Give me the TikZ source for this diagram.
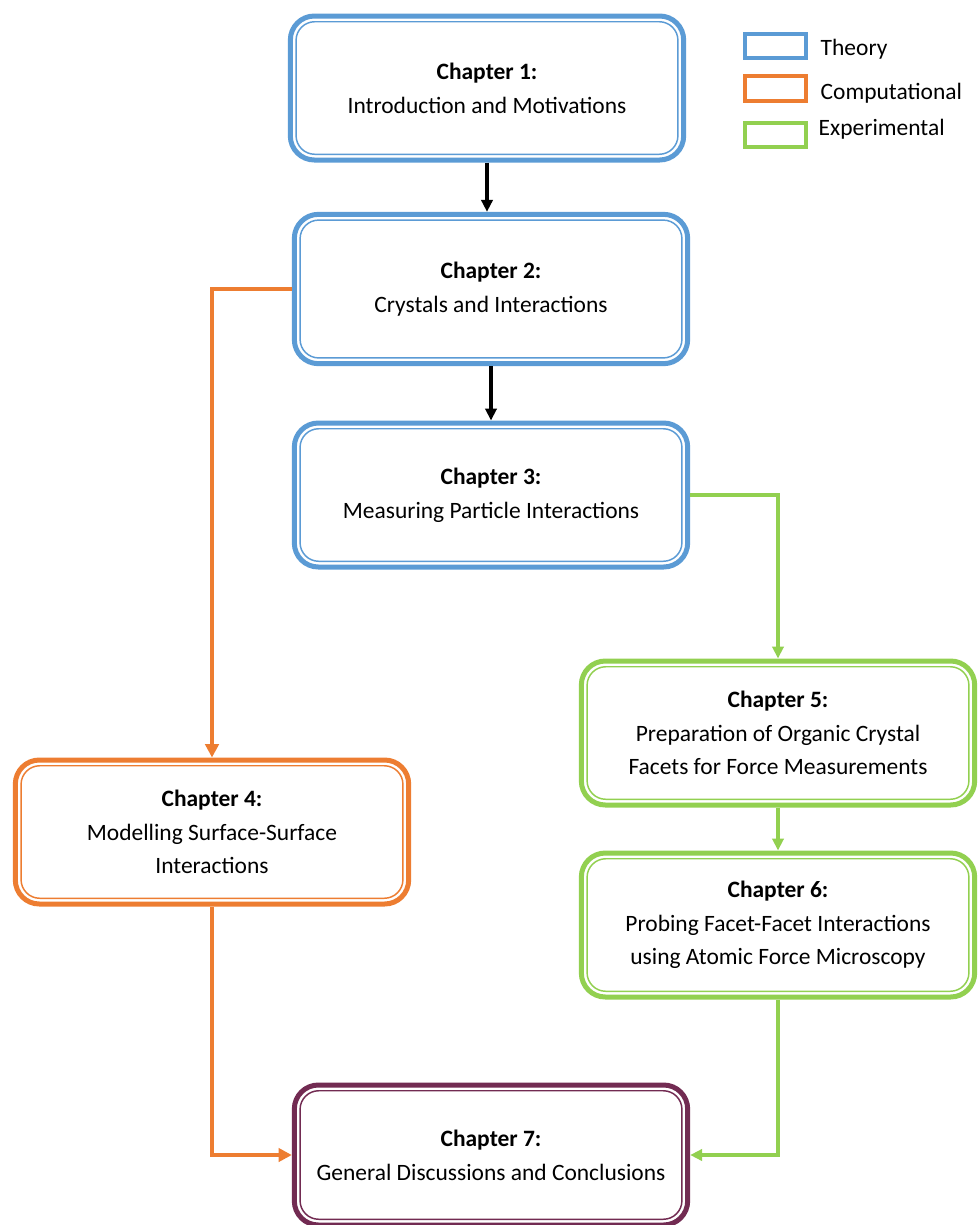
\documentclass[tikz,border=0pt]{standalone}
\usepackage{fontspec}
\setmainfont{Carlito}
\usepackage{xcolor}
\usetikzlibrary{arrows.meta,positioning}

\definecolor{thblue}{HTML}{5B9BD5}
\definecolor{cmorange}{HTML}{ED7D31}
\definecolor{exgreen}{HTML}{92D050}
\definecolor{plum}{HTML}{722B52}

\begin{document}
\begin{tikzpicture}[x=0.75pt, y=-0.75pt,
  box/.style    = {rectangle, rounded corners=18pt, line width=3.75pt,
                   fill=white, minimum width=295pt, minimum height=108pt,
                   align=center, font=\fontsize{17.6}{25.3}\selectfont},
  frame/.style  = {box, draw=#1,
                   path picture={\draw[#1, line width=1.1pt, rounded corners=14pt]
                     ([shift={(4.3pt,4.3pt)}]path picture bounding box.south west) rectangle
                     ([shift={(-4.3pt,-4.3pt)}]path picture bounding box.north east);}},
  theory/.style = {frame=thblue},
  comp/.style   = {frame=cmorange},
  expt/.style   = {frame=exgreen},
  concl/.style  = {frame=plum},
  key/.style    = {draw=#1, line width=3pt, minimum width=45.5pt, minimum height=18.5pt},
  keytxt/.style = {anchor=west, font=\fontsize{17.6}{20}\selectfont},
  arr/.style    = {-{Triangle[length=9pt,width=8.5pt]}, line width=2.3pt},
  oarr/.style   = {arr, cmorange, line width=3pt, -{Triangle[length=10pt,width=10pt]}},
  garr/.style   = {arr, exgreen, line width=2.4pt}
]
\useasboundingbox (0,0) rectangle (978,1225);

% --- theory chain ---
\node[theory] (ch1) at (487,88)  {\textbf{Chapter 1:}\\Introduction and Motivations};
\node[theory, minimum height=112pt] (ch2) at (491,289) {\textbf{Chapter 2:}\\Crystals and Interactions};
\node[theory] (ch3) at (491,495) {\textbf{Chapter 3:}\\Measuring Particle Interactions};

% --- computational branch ---
\node[comp] (ch4) at (212,832) {\textbf{Chapter 4:}\\Modelling Surface-Surface\\Interactions};

% --- experimental branch ---
\node[expt] (ch5) at (778,733) {\textbf{Chapter 5:}\\Preparation of Organic Crystal\\Facets for Force Measurements};
\node[expt] (ch6) at (778,925) {\textbf{Chapter 6:}\\Probing Facet-Facet Interactions\\using Atomic Force Microscopy};

% --- conclusions ---
\node[concl, minimum height=105pt] (ch7) at (491,1155) {\textbf{Chapter 7:}\\General Discussions and Conclusions};

% --- legend ---
\node[key=thblue]   (kth) at (775.5,46)  {};
\node[key=cmorange] (kcm) at (775.5,88.5) {};
\node[key=exgreen]  (kex) at (775.5,135) {};
\node[keytxt] (lth) at (816,49)  {Theory};
\node[keytxt] (lcm) at (816,93)  {Computational};
\node[keytxt] (lex) at (814,129) {Experimental};

% --- arrows ---
\draw[arr]  (ch1.south) -- (ch1.south |- ch2.north);
\draw[arr]  (ch2.south) -- (ch3.north);
\draw[oarr] (ch2.west) -| (ch4.north);
\draw[garr] (ch3.east) -| (ch5.north);
\draw[garr] (ch5.south) -- (ch6.north);
\draw[oarr] (ch4.south) |- (ch7.west);
\draw[garr] (ch6.south) |- (ch7.east);

\end{tikzpicture}
\end{document}
